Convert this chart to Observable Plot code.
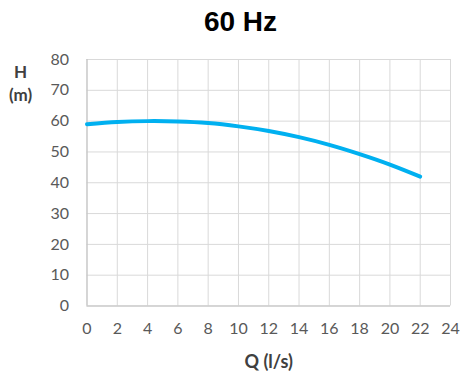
<!DOCTYPE html>
<html><head><meta charset="utf-8">
<script src="https://cdn.jsdelivr.net/npm/d3@7"></script>
<script src="https://cdn.jsdelivr.net/npm/@observablehq/plot@0.6"></script>
<style>
body{margin:0;background:#fff;}
#wrap{width:471px;height:378px;position:relative;}
#title{height:45px;text-align:center;font:bold 28px "Liberation Sans",Arial,sans-serif;line-height:43px;color:#000;padding-left:10px;box-sizing:border-box;}
</style></head>
<body><div id="wrap"><div id="title">60 Hz</div><div id="chart"></div></div>
<script>
const flow = [0, 2, 4, 6, 8, 10, 12, 14, 16, 18, 20, 22];
const head = [59, 59.7, 60, 59.9, 59.4, 58.3, 56.8, 54.8, 52.3, 49.3, 45.9, 42];
const xTicks = [0,2,4,6,8,10,12,14,16,18,20,22,24];
const yTicks = [0,10,20,30,40,50,60,70,80];
const data = flow.map((q,i)=>({q, h: head[i]}));
const font = "Lato, 'Open Sans', sans-serif";
const chart = Plot.plot({
  width: 471, height: 333,
  marginLeft: 86.5, marginRight: 21, marginTop: 14, marginBottom: 72.5,
  style: {fontFamily: font, fontSize: "16px", color: "#595959", background: "#fff"},
  x: {domain: [0,24]},
  y: {domain: [0,80]},
  marks: [
    Plot.gridX(xTicks, {stroke: "#d9d9d9", strokeOpacity: 1, strokeWidth: 1}),
    Plot.gridY(yTicks, {stroke: "#d9d9d9", strokeOpacity: 1, strokeWidth: 1}),
    Plot.ruleX([0], {stroke: "#bfbfbf"}),
    Plot.ruleY([0], {stroke: "#bfbfbf"}),
    Plot.axisX(xTicks, {tickSize: 0, tickPadding: 17, label: null, fill: "#595959"}),
    Plot.axisY(yTicks, {tickSize: 0, tickPadding: 18, label: null, fill: "#595959"}),
    Plot.line(data, {x: "q", y: "h", stroke: "#00b0f0", strokeWidth: 4, curve: "natural"}),
    Plot.text(["H"], {frameAnchor: "top-left", textAnchor: "middle", lineAnchor: "middle", dx: -66.5, dy: 13, fontWeight: "bold", fontSize: 17, fill: "#404040"}),
    Plot.text(["(m)"], {frameAnchor: "top-left", textAnchor: "middle", lineAnchor: "middle", dx: -66.5, dy: 36, fontWeight: "bold", fontSize: 17, fill: "#404040"}),
    Plot.text(["Q (l/s)"], {frameAnchor: "bottom", lineAnchor: "middle", dy: 56, fontWeight: "bold", fontSize: 18, fill: "#404040"})
  ]
});
document.getElementById("chart").appendChild(chart);
</script></body></html>
